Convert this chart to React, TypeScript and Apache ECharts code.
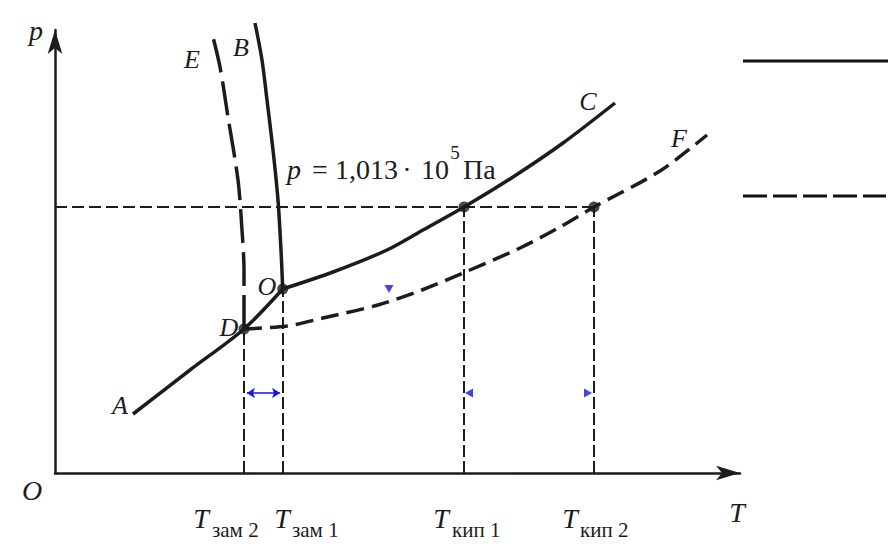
import React, { useEffect, useRef } from "react";
import * as echarts from "echarts";

// Diagram units: T (x) and p (y); schematic.
const sublimationAO: number[][] = [[7.8, 5.9], [13.5, 10.3], [18.9, 14.4], [22.77, 18.4]];
const boilingOC: number[][] = [[22.77, 18.4], [27.8, 20.1], [33.2, 22.3], [36.8, 24.3], [40.9, 26.6], [45.8, 29.6], [50.8, 33.0], [56.0, 37.0]];
const meltingOB: number[][] = [[22.77, 18.4], [22.6, 22.3], [22.3, 27.3], [21.8, 32.3], [21.2, 37.3], [20.7, 41.3], [20.0, 45.0]];
const solutionBoilingDF: number[][] = [[18.9, 14.4], [23.2, 14.7], [26.8, 15.5], [32.3, 16.8], [36.7, 18.3], [40.8, 20.0], [46.5, 22.5], [50.5, 24.6], [53.9, 26.6], [60.5, 30.2], [65.2, 33.8]];
const solutionMeltingDE: number[][] = [[18.9, 14.4], [18.9, 20.3], [18.7, 24.3], [18.3, 29.3], [17.3, 35.6], [16.5, 40.6], [15.7, 44.0]];

const pointD = [18.9, 14.4];
const pointO = [22.77, 18.4];
const pAtm = 26.6;
const tZam2 = 18.9;
const tZam1 = 22.77;
const tKip1 = 40.9;
const tKip2 = 53.9;
const keyPoints: number[][] = [pointD, pointO, [tKip1, pAtm], [tKip2, pAtm]];
const tickSubs = ["зам 2", "зам 1", "кип 1", "кип 2"];
const blueMarks: { value: number[]; rot: number }[] = [
  { value: [33.4, 18.4], rot: 180 },
  { value: [41.4, 8.0], rot: 90 },
  { value: [53.3, 8.0], rot: -90 },
];
const deltaArrow = [[19.2, 8.0], [22.5, 8.0]];

const INK = "#1c1c1c";
const BLUE = "#1414e6";
const FAMILY = "'Liberation Serif', 'Times New Roman', 'DejaVu Serif', serif";

function txt(x: number, y: number, text: string, size: number, italic: boolean, align = "center") {
  return {
    type: "text",
    x,
    y,
    silent: true,
    style: {
      text,
      fontFamily: FAMILY,
      fontSize: size,
      fontStyle: italic ? "italic" : "normal",
      fill: INK,
      textAlign: align,
      textVerticalAlign: "middle",
      align,
      verticalAlign: "middle",
    },
  };
}

export default function App() {
  const ref = useRef<HTMLDivElement>(null);
  useEffect(() => {
    document.body.style.margin = "0";
    const chart = echarts.init(ref.current!, null, { renderer: "svg" });
    const solid = { color: INK, width: 3.5, type: "solid" };
    const option: any = {
      animation: false,
      backgroundColor: "#ffffff",
      textStyle: { fontFamily: FAMILY },
      grid: { left: 55, top: 30, width: 685, height: 443 },
      xAxis: {
        type: "value",
        min: 0,
        max: 68.5,
        axisLine: { show: true, symbol: ["none", "arrow"], symbolSize: [11, 24], lineStyle: { color: INK, width: 2.5 } },
        axisTick: { show: false },
        axisLabel: { show: false },
        splitLine: { show: false },
      },
      yAxis: {
        type: "value",
        min: 0,
        max: 44.3,
        axisLine: { show: true, symbol: ["none", "arrow"], symbolSize: [11, 24], lineStyle: { color: INK, width: 2.5 } },
        axisTick: { show: false },
        axisLabel: { show: false },
        splitLine: { show: false },
      },
      series: [
        { type: "line", data: sublimationAO, smooth: 0.3, symbol: "none", lineStyle: solid, clip: false },
        { type: "line", data: boilingOC, smooth: 0.3, symbol: "none", lineStyle: solid, clip: false },
        { type: "line", data: meltingOB, smooth: 0.3, symbol: "none", lineStyle: solid, clip: false },
        {
          type: "line",
          data: solutionBoilingDF,
          smooth: 0.3,
          symbol: "none",
          clip: false,
          lineStyle: { color: INK, width: 3.5, type: [18, 8] },
        },
        {
          type: "line",
          data: solutionMeltingDE,
          smooth: 0.3,
          symbol: "none",
          clip: false,
          lineStyle: { color: INK, width: 3.5, type: [34, 9] },
        },
        {
          type: "scatter",
          data: keyPoints,
          symbol: "circle",
          symbolSize: 11,
          itemStyle: { color: INK },
          z: 5,
          markLine: {
            silent: true,
            symbol: ["none", "none"],
            label: { show: false },
            lineStyle: { color: INK, width: 2, type: [12, 4] },
            data: [
              [{ coord: [tZam2, 0] }, { coord: pointD }],
              [{ coord: [tZam1, 0] }, { coord: pointO }],
              [{ coord: [tKip1, 0] }, { coord: [tKip1, pAtm] }],
              [{ coord: [tKip2, 0] }, { coord: [tKip2, pAtm] }],
              [{ coord: [0, pAtm], lineStyle: { type: [12, 5] } }, { coord: [tKip2, pAtm] }],
            ],
          },
        },
        {
          type: "scatter",
          data: blueMarks.map((m) => ({ value: m.value, symbolRotate: m.rot })),
          symbol: "triangle",
          symbolSize: [9, 8],
          itemStyle: { color: BLUE },
          z: 6,
          markLine: {
            silent: true,
            symbol: ["arrow", "arrow"],
            symbolSize: 8,
            label: { show: false },
            lineStyle: { color: BLUE, width: 1.5, type: "solid" },
            data: [[{ coord: deltaArrow[0] }, { coord: deltaArrow[1] }]],
          },
        },
      ],
      graphic: [
        txt(36, 30, "p", 28, true),
        txt(32, 490, "O", 28, true),
        txt(737, 512, "T", 28, true),
        txt(192, 59, "E", 26, true),
        txt(241, 47, "B", 26, true),
        txt(588, 101, "C", 26, true),
        txt(679, 138, "F", 26, true),
        txt(267, 286, "O", 26, true),
        txt(229, 327, "D", 26, true),
        txt(120, 405, "A", 26, true),
        txt(287, 169, "p", 28, true, "left"),
        txt(320, 169, "=", 28, false),
        txt(335, 169, "1,013", 28, false, "left"),
        txt(407, 169, "·", 28, false),
        txt(435, 169, "10", 28, false),
        txt(455, 152, "5", 19, false),
        txt(463, 169, "Па", 28, false, "left"),
        txt(201, 518, "T", 28, true),
        txt(212, 530, tickSubs[0], 21, false, "left"),
        txt(282, 518, "T", 28, true),
        txt(292, 530, tickSubs[1], 21, false, "left"),
        txt(441, 518, "T", 28, true),
        txt(452, 530, tickSubs[2], 21, false, "left"),
        txt(570, 518, "T", 28, true),
        txt(580, 530, tickSubs[3], 21, false, "left"),
        { type: "line", silent: true, shape: { x1: 743, y1: 61, x2: 888, y2: 61 }, style: { stroke: "#111", lineWidth: 3 } },
        { type: "line", silent: true, shape: { x1: 743, y1: 196, x2: 886, y2: 196 }, style: { stroke: "#111", lineWidth: 3, lineDash: [24, 6] } },
      ],
    };
    chart.setOption(option);
    return () => chart.dispose();
  }, []);
  return <div ref={ref} style={{ width: 888, height: 559 }} />;
}
